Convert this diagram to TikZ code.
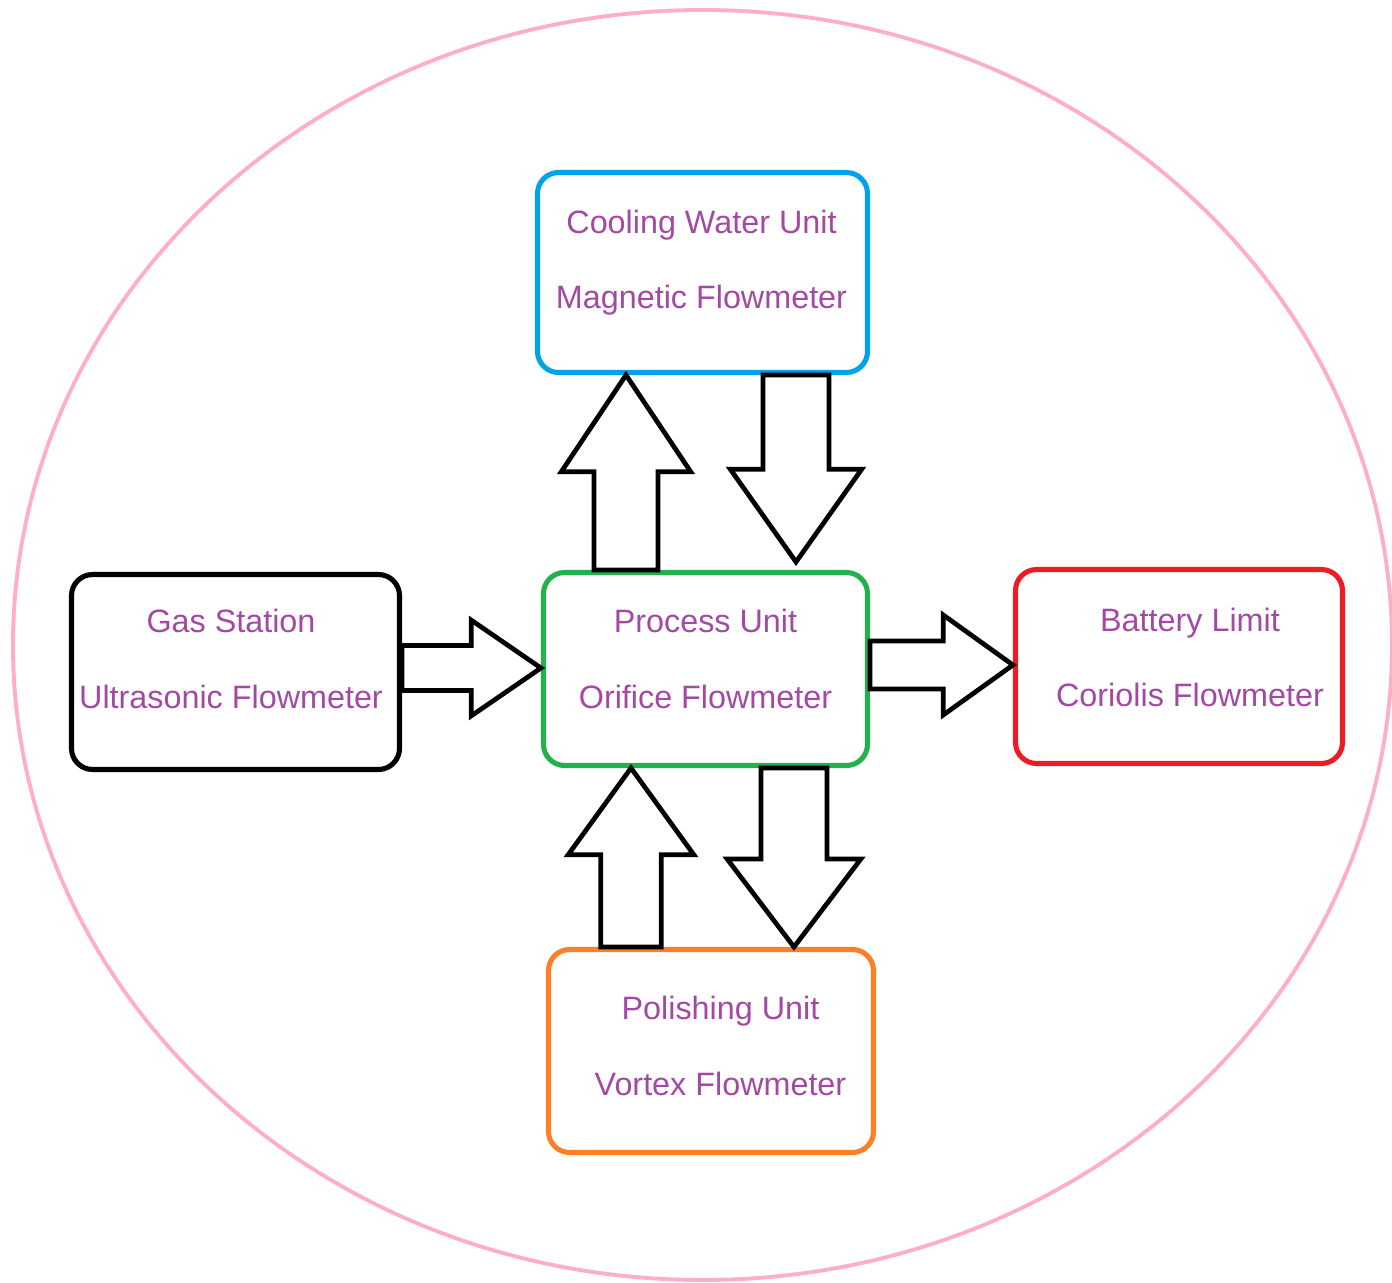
\documentclass[tikz,border=0pt]{standalone}
\usepackage{fontspec}
\setmainfont{Liberation Sans}
\usetikzlibrary{calc}

\definecolor{ringpink}{RGB}{255,174,201}
\definecolor{labelpurple}{RGB}{163,73,164}
\definecolor{coolblue}{RGB}{0,162,232}
\definecolor{procgreen}{RGB}{34,177,76}
\definecolor{limitred}{RGB}{237,28,36}
\definecolor{polorange}{RGB}{255,127,39}

% hollow block arrow: tail, tip, shaft half width, head half width, head length
\newcommand\flowarrow[5]{%
  \draw[flowline] let \p1=(#1), \p2=(#2),
      \n1={atan2(\y2-\y1,\x2-\x1)}, \n2={veclen(\x2-\x1,\y2-\y1)} in
    [shift={(\p1)}, rotate=\n1]
    (0pt,#3) -- (\n2-#5,#3) -- (\n2-#5,#4) -- (\n2,0pt)
    -- (\n2-#5,-#4) -- (\n2-#5,-#3) -- (0pt,-#3) -- cycle;}

\begin{document}
\begin{tikzpicture}[x=0.1mm,y=-0.1mm,
    unitbox/.style={draw, rounded corners=6pt, line width=1.45pt, inner sep=0pt},
    unitlabel/.style={inner sep=0pt, align=center, text=labelpurple,
      font=\fontsize{9.2pt}{21.5pt}\selectfont},
    flowline/.style={draw=black, fill=white, line width=1.35pt, line join=miter}]
  \useasboundingbox (0,0) rectangle (1392,1283);
  % outer ring
  \draw[ringpink, line width=1.1pt] (702.5,645) ellipse [x radius=6.895cm, y radius=6.35cm];

  % units
  \node[unitbox, draw=coolblue, minimum width=3.30cm, minimum height=2.00cm] (cool) at (702.5,272.5) {};
  \node[unitbox, draw=black, minimum width=3.28cm, minimum height=1.95cm] (gas) at (235.5,672) {};
  \node[unitbox, draw=procgreen, minimum width=3.24cm, minimum height=1.93cm] (proc) at (705.5,669) {};
  \node[unitbox, draw=limitred, minimum width=3.27cm, minimum height=1.94cm] (batt) at (1179,666.5) {};
  \node[unitbox, draw=polorange, minimum width=3.25cm, minimum height=2.03cm] (pol) at (711,1051) {};

  % labels
  \node[unitlabel] (cool-txt) at (701.5,262.6) {Cooling Water Unit\\Magnetic Flowmeter};
  \node[unitlabel] (gas-txt) at (231,659) {Gas Station\\Ultrasonic Flowmeter};
  \node[unitlabel] (proc-txt) at (705.5,659.2) {Process Unit\\Orifice Flowmeter};
  \node[unitlabel] (batt-txt) at (1190,657.5) {Battery Limit\\Coriolis Flowmeter};
  \node[unitlabel] (pol-txt) at (720.5,1045.7) {Polishing Unit\\Vortex Flowmeter};

  % flows
  \flowarrow{626,0 |- proc.north}{626,0 |- cool.south}{9.1pt}{18.4pt}{27.5pt}
  \flowarrow{796,0 |- cool.south}{$(796,0 |- proc.north)+(0,-8)$}{9.4pt}{18.7pt}{26.4pt}
  \flowarrow{gas.east |- 0,668}{proc.west |- 0,668}{6.4pt}{13.6pt}{19.8pt}
  \flowarrow{proc.east |- 0,665}{batt.west |- 0,665}{6.8pt}{14.2pt}{19.8pt}
  \flowarrow{631,0 |- pol.north}{631,0 |- proc.south}{8.6pt}{17.9pt}{24.7pt}
  \flowarrow{794,0 |- proc.south}{794,0 |- pol.north}{9.4pt}{19pt}{25pt}
\end{tikzpicture}
\end{document}
